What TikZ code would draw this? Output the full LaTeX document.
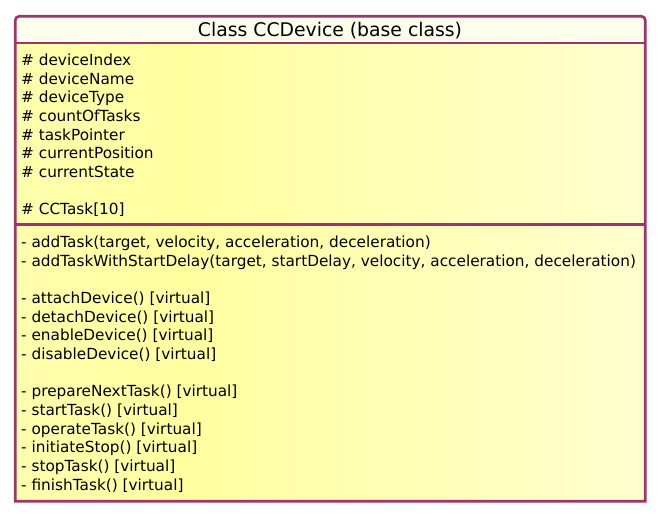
\documentclass[tikz,border=0pt]{standalone}
\usepackage{fontspec}
\setmainfont{DejaVu Sans}
\definecolor{bordc}{HTML}{A0336A}
\definecolor{titlec}{HTML}{FEFEEC}
\definecolor{shA}{HTML}{FFFFC6}
\definecolor{shB}{HTML}{FFFFA0}
\definecolor{shC}{HTML}{FFFFEE}
\pgfdeclarehorizontalshading{bodyshade}{100bp}{color(0bp)=(shA); color(38bp)=(shB); color(100bp)=(shC)}
\begin{document}
\begin{tikzpicture}[x=1pt,y=1pt,
  line/.style={anchor=mid west,inner sep=0pt,font=\fontsize{15.3}{17}\selectfont},
  titletext/.style={anchor=mid,inner sep=0pt,font=\fontsize{18.8}{21}\selectfont}]
\useasboundingbox (0,0) rectangle (661,517);
% body fill
\shade[shading=bodyshade] (15.3,15.7) rectangle (645.3,474);
% title fill
\fill[titlec] (15.3,474) -- (15.3,496.7) arc(180:90:4) -- (641.3,500.7) arc(90:0:4) -- (645.3,474) -- cycle;
% dividers
\draw[bordc,line width=2.6pt] (15.3,474) -- (645.3,474);
\draw[bordc,line width=2.6pt] (15.3,292.5) -- (645.3,292.5);
% border
\draw[bordc,line width=2.7pt] (15.3,15.7) -- (15.3,496.7) arc(180:90:4) -- (641.3,500.7) arc(90:0:4) -- (645.3,15.7) -- cycle;
\node[titletext] (title) at (330,483.5) {Class CCDevice (base class)};
% attributes
\begin{scope}[yshift=-3pt]
\node[line] (a1) at (21,457) {\# deviceIndex};
\node[line] (a2) at (21,438.5) {\# deviceName};
\node[line] (a3) at (21,419.8) {\# deviceType};
\node[line] (a4) at (21,401.2) {\# countOfTasks};
\node[line] (a5) at (21,382.5) {\# taskPointer};
\node[line] (a6) at (21,363.9) {\# currentPosition};
\node[line] (a7) at (21,345.2) {\# currentState};
\node[line] (a8) at (21,307.9) {\# CCTask[10]};
% methods
\node[line] (m1) at (21,275) {- addTask(target, velocity, acceleration, deceleration)};
\node[line] (m2) at (21,256.4) {- addTaskWithStartDelay(target, startDelay, velocity, acceleration, deceleration)};
\node[line] (m3) at (21,219.1) {- attachDevice() [virtual]};
\node[line] (m4) at (21,200.5) {- detachDevice() [virtual]};
\node[line] (m5) at (21,181.8) {- enableDevice() [virtual]};
\node[line] (m6) at (21,163.2) {- disableDevice() [virtual]};
\node[line] (m7) at (21,125.9) {- prepareNextTask() [virtual]};
\node[line] (m8) at (21,107.3) {- startTask() [virtual]};
\node[line] (m9) at (21,88.6) {- operateTask() [virtual]};
\node[line] (m10) at (21,70) {- initiateStop() [virtual]};
\node[line] (m11) at (21,51.3) {- stopTask() [virtual]};
\node[line] (m12) at (21,32.7) {- finishTask() [virtual]};
\end{scope}
\end{tikzpicture}
\end{document}
